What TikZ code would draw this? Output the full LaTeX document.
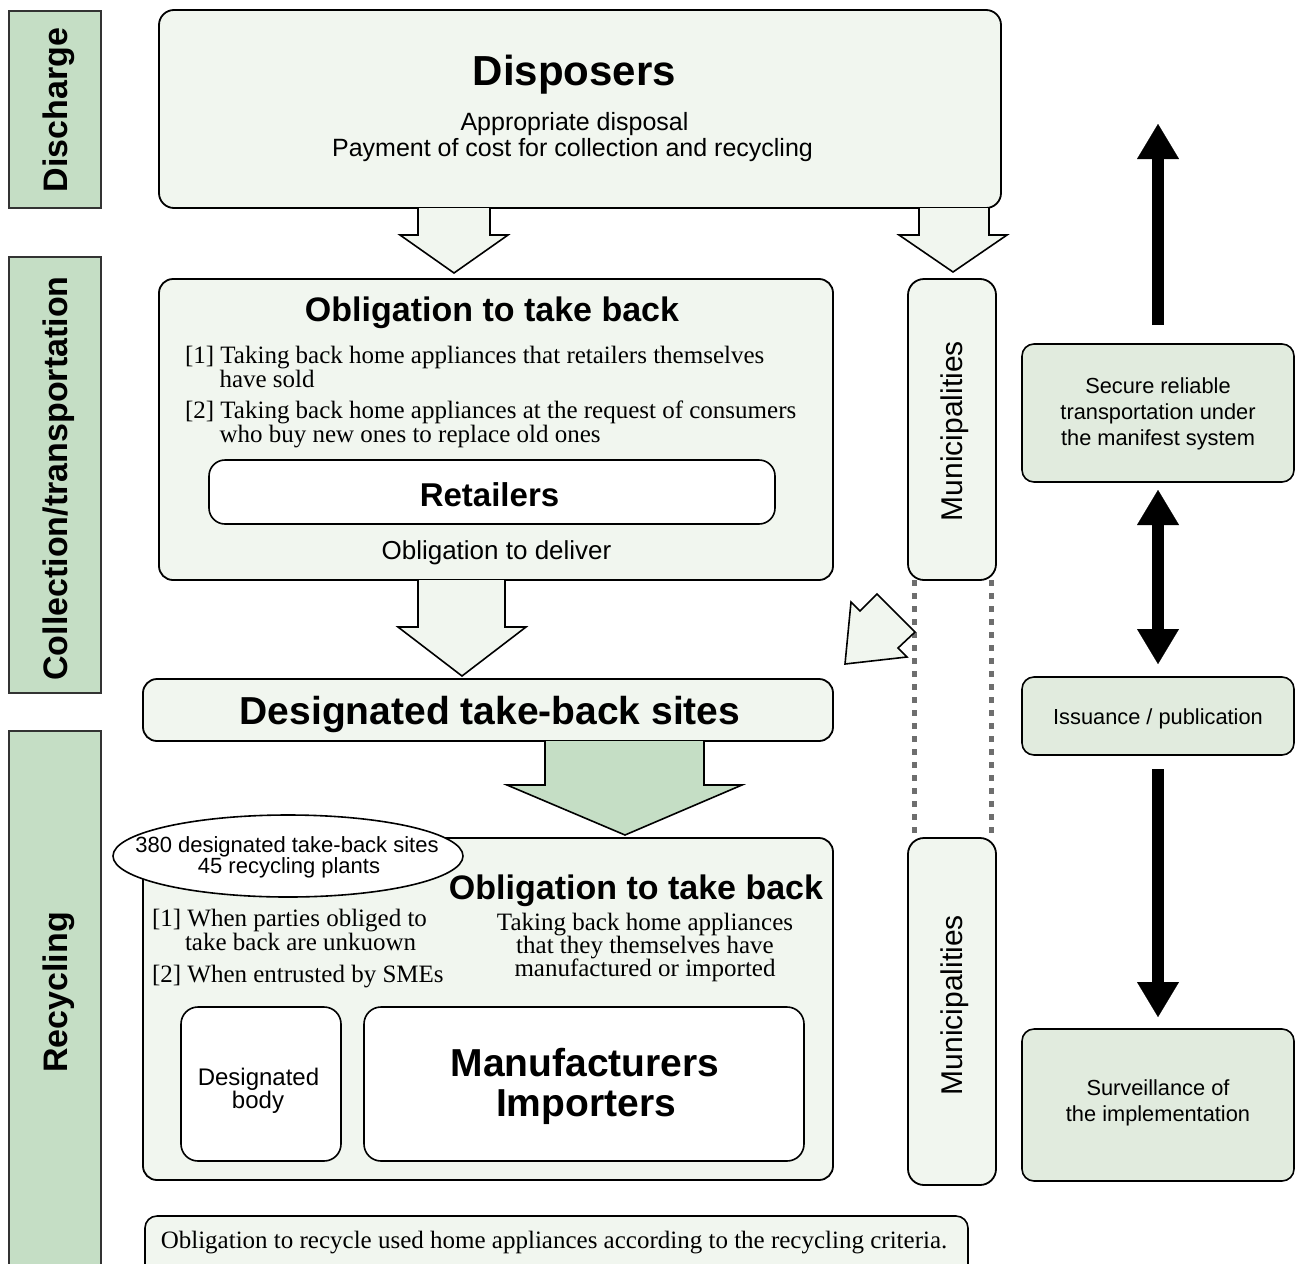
\documentclass[tikz,border=0pt]{standalone}
\usepackage{fontspec}
\setmainfont{Liberation Sans}
\newfontfamily\srf{Liberation Serif}
\usetikzlibrary{arrows.meta,shapes.geometric}
\definecolor{stagefill}{HTML}{C5DEC5}
\definecolor{stageline}{HTML}{333333}
\definecolor{panelfill}{HTML}{F1F6EF}
\definecolor{sidefill}{HTML}{E1EBDE}
\definecolor{dashgray}{HTML}{6E6E6E}
\begin{document}
\begin{tikzpicture}[x=1pt,y=-1pt,
  every node/.style={inner sep=0pt,outer sep=0pt},
  stage/.style={draw=stageline,line width=1.5pt,fill=stagefill},
  stagetxt/.style={rotate=90,anchor=base,font=\fontsize{34}{40}\selectfont\bfseries},
  panel/.style={draw=black,line width=1.8pt,fill=panelfill,rounded corners=15pt},
  whitebox/.style={draw=black,line width=1.6pt,fill=white,rounded corners=17pt},
  sidebox/.style={draw=black,line width=1.6pt,fill=sidefill,rounded corners=12pt,minimum width=272pt},
  muni/.style={panel,rounded corners=16pt,minimum width=88pt},
  munitxt/.style={rotate=90,anchor=base,font=\fontsize{30}{34}\selectfont},
  blockarrow/.style={draw=black,line width=1.6pt,fill=panelfill,line join=miter},
  bigarrow/.style={line width=12pt,-{Triangle[width=42pt,length=35pt,line width=0.1pt]}},
  bigarrows/.style={line width=12pt,{Triangle[width=42pt,length=35pt,line width=0.1pt]}-{Triangle[width=42pt,length=35pt,line width=0.1pt]}},
  title/.style={anchor=base,font=\fontsize{34}{40}\selectfont\bfseries},
  sans/.style={anchor=base,font=\fontsize{25}{30}\selectfont},
  small/.style={anchor=base,font=\fontsize{21.8}{26}\selectfont},
  serif/.style={anchor=base west,font=\srf\fontsize{25}{28}\selectfont},
  serifc/.style={anchor=base,font=\srf\fontsize{25}{28}\selectfont},
]
\clip (0,0) rectangle (1300,1263);
\useasboundingbox (0,0) rectangle (1300,1263);

% stage labels on the left
\node[stage,minimum width=92pt,minimum height=197pt] (stDis) at (55,109.5) {};
\node[stagetxt] (stDisT) at (67,110) {Discharge};
\node[stage,minimum width=92pt,minimum height=436pt] (stCol) at (55,475) {};
\node[stagetxt] (stColT) at (67,478.5) {Collection/transportation};
\node[stage,minimum width=92pt,minimum height=560pt] (stRec) at (55,1011) {};
\node[stagetxt] (stRecT) at (67,992.5) {Recycling};

% disposers
\node[panel,minimum width=842pt,minimum height=198pt] (disp) at (580,109) {};
\node[anchor=base,font=\fontsize{42}{46}\selectfont\bfseries] (dispT) at (574.5,85) {Disposers};
\node[sans] (dispA) at (574.5,130) {Appropriate disposal};
\node[sans] (dispB) at (572.5,156) {Payment of cost for collection and recycling};

% block arrows below the disposers
\draw[blockarrow] (418,208) -- (418,235) -- (400,235) -- (454,273) -- (508,235) -- (490,235) -- (490,208);
\draw[blockarrow] (919,208) -- (919,235) -- (899,235) -- (953,272) -- (1007,235) -- (989,235) -- (989,208);

% retailers' obligation
\node[panel,rounded corners=14pt,minimum width=674pt,minimum height=301pt] (obl) at (496,429.5) {};
\node[title] (oblT) at (492,321) {Obligation to take back};
\node[serif] (oblA) at (185,363) {[1] Taking back home appliances that retailers themselves};
\node[serif] (oblA2) at (219.5,387) {have sold};
\node[serif] (oblB) at (185,418) {[2] Taking back home appliances at the request of consumers};
\node[serif] (oblB2) at (219.5,442) {who buy new ones to replace old ones};
\node[whitebox,rounded corners=16pt,minimum width=566pt,minimum height=64pt] (ret) at (492,492) {};
\node[anchor=base,font=\fontsize{33}{38}\selectfont\bfseries] (retT) at (489.5,506) {Retailers};
\node[sans,font=\fontsize{26}{30}\selectfont] (deliv) at (496.5,559) {Obligation to deliver};

% arrow to the take-back sites
\draw[blockarrow] (418,580) -- (418,627) -- (398,627) -- (462,676) -- (526,627) -- (505,627) -- (505,580);

% designated take-back sites
\node[panel,rounded corners=14pt,minimum width=690pt,minimum height=62pt] (sites) at (488,710) {};
\node[anchor=base,font=\fontsize{39}{44}\selectfont\bfseries] (sitesT) at (490,724) {Designated take-back sites};

% green arrow to recycling
\draw[blockarrow,fill=stagefill] (545,741) -- (545,785) -- (507,785) -- (625,835) -- (742,785) -- (704,785) -- (704,741);

% recycling area
\node[panel,rounded corners=14pt,minimum width=690pt,minimum height=342pt] (rec) at (488,1009) {};
\node[ellipse,draw=black,line width=1.6pt,fill=white,minimum width=350pt,minimum height=82pt] (cnt) at (288,856) {};
\node[anchor=base,font=\fontsize{22}{26}\selectfont] (cntA) at (287,852) {380 designated take-back sites};
\node[anchor=base,font=\fontsize{22}{26}\selectfont] (cntB) at (289,873) {45 recycling plants};
\node[title] (recT) at (636,899) {Obligation to take back};
\node[serifc] (recR1) at (645,930) {Taking back home appliances};
\node[serifc] (recR2) at (645,953) {that they themselves have};
\node[serifc] (recR3) at (645,976) {manufactured or imported};
\node[serif] (recL1) at (152,926) {[1] When parties obliged to};
\node[serif] (recL2) at (185,950) {take back are unkuown};
\node[serif] (recL3) at (152,982) {[2] When entrusted by SMEs};
\node[whitebox,minimum width=160pt,minimum height=154pt] (body) at (261,1084) {};
\node[anchor=base,font=\fontsize{24}{28}\selectfont] (bodyA) at (258.5,1085) {Designated};
\node[anchor=base,font=\fontsize{24}{28}\selectfont] (bodyB) at (258,1108) {body};
\node[whitebox,minimum width=440pt,minimum height=154pt] (man) at (584,1084) {};
\node[anchor=base,font=\fontsize{39}{44}\selectfont\bfseries] (manA) at (585,1076) {Manufacturers};
\node[anchor=base,font=\fontsize{39}{44}\selectfont\bfseries] (manB) at (586,1116) {Importers};

% recycling criteria note
\node[panel,rounded corners=12pt,line width=1.6pt,minimum width=823pt,minimum height=74pt] (crit) at (556.5,1253) {};
\node[serifc] (critT) at (554,1248) {Obligation to recycle used home appliances according to the recycling criteria.};

% municipalities
\node[muni,minimum height=301pt] (muniA) at (952,429.5) {};
\node[munitxt] (muniAT) at (962,431) {Municipalities};
\node[muni,minimum height=347pt] (muniB) at (952,1011.5) {};
\node[munitxt] (muniBT) at (962,1005) {Municipalities};
\draw[dashgray,line width=5pt,dash pattern=on 6pt off 7pt] ([xshift=-38pt]muniA.south) -- ([xshift=-38pt]muniB.north);
\draw[dashgray,line width=5pt,dash pattern=on 6pt off 7pt] ([xshift=39pt]muniA.south) -- ([xshift=39pt]muniB.north);

% delivery from municipalities to the take-back sites
\draw[blockarrow] (845,664) -- (851,602) -- (860,611) -- (877,594) -- (915,632) -- (898,648) -- (907,657) -- cycle;

% manifest system
\node[sidebox,minimum height=138pt] (sec) at (1158,413) {};
\node[small] (secA) at (1158,393) {Secure reliable};
\node[small] (secB) at (1158,419) {transportation under};
\node[small] (secC) at (1158,445) {the manifest system};
\node[sidebox,minimum height=78pt] (iss) at (1158,716) {};
\node[small] (issT) at (1158,724) {Issuance / publication};
\node[sidebox,minimum height=152pt] (sur) at (1158,1105) {};
\node[small] (surA) at (1158,1095) {Surveillance of};
\node[small] (surB) at (1158,1121) {the implementation};

\coordinate (upTip) at (1158,124);
\draw[bigarrow,shorten <=19pt] (sec.north) -- (upTip);
\draw[bigarrows,shorten <=8pt,shorten >=13pt] (sec.south) -- (iss.north);
\draw[bigarrow,shorten <=14pt,shorten >=12pt] (iss.south) -- (sur.north);
\end{tikzpicture}
\end{document}
